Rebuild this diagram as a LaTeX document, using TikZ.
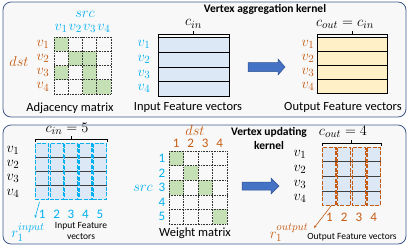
\documentclass[tikz,border=0pt]{standalone}
\usepackage{fontspec}
\setmainfont{Carlito}
\usetikzlibrary{arrows.meta}
\definecolor{panelborder}{RGB}{62,90,140}
\definecolor{panelfill}{RGB}{248,248,248}
\definecolor{cblue}{RGB}{0,176,240}
\definecolor{corange}{RGB}{197,90,17}
\definecolor{cgreen}{RGB}{197,224,180}
\definecolor{lblue}{RGB}{220,232,246}
\definecolor{lyellow}{RGB}{255,240,200}
\definecolor{arrblue}{RGB}{68,114,196}
\definecolor{arrborder}{RGB}{47,82,143}
\tikzset{
  panel/.style={draw=panelborder, fill=panelfill, line width=0.8pt, rounded corners=8pt},
  gridl/.style={draw=black!80, densely dotted, line width=0.6pt},
  lbl/.style={inner sep=0pt, font=\fontsize{15}{16}\selectfont},
  numlbl/.style={inner sep=0pt, font=\fontsize{13}{14}\selectfont},
  captxt/.style={inner sep=0pt, font=\fontsize{12.5}{14}\selectfont},
  smallcap/.style={inner sep=0pt, font=\fontsize{9.5}{11}\selectfont, align=center},
  ttl/.style={inner sep=0pt, font=\fontsize{11.5}{14}\selectfont\bfseries, align=center},
  bigarrow/.style={draw=arrborder, fill=arrblue, line width=0.5pt},
  bracket/.style={draw=black, line width=0.6pt},
  rowline/.style={draw=black, line width=0.6pt},
  bdash/.style={draw=cblue, dash pattern=on 4pt off 1.5pt, line width=1.2pt},
  odash/.style={draw=corange, dash pattern=on 4pt off 1.5pt, line width=1.2pt},
}
\begin{document}
\begin{tikzpicture}[x=1pt,y=-1pt]
\useasboundingbox (0,0) rectangle (409,247);
% panels
\draw[panel] (3,2) rectangle (406,117);
\draw[panel] (3,125) rectangle (406,244);

% ================= TOP PANEL =================
\node[ttl] (t1) at (265,9) {Vertex aggregation kernel};

% adjacency matrix
\def\cw{14.25}
\foreach \r/\c in {1/1,2/2,2/3,3/1,3/3,4/3,4/4}{
  \fill[cgreen] ({54+(\c-1)*\cw},{37+(\r-1)*\cw}) rectangle ++(\cw,\cw);
}
\foreach \i in {0,...,4}{
  \draw[gridl] ({54+\i*\cw},37) -- ({54+\i*\cw},94);
  \draw[gridl] (54,{37+\i*\cw}) -- (111,{37+\i*\cw});
}
\node[lbl, text=cblue] (src1) at (85,14) {$src$};
\foreach \i in {1,...,4}{
  \node[lbl, text=cblue] (ac\i) at ({54+(\i-0.5)*\cw},28) {$v_{\i}$};
  \node[lbl, text=corange] (ar\i) at (43,{37+(\i-0.5)*\cw}) {$v_{\i}$};
}
\node[lbl, text=corange] (dst1) at (19,61) {$dst$};
\node[captxt] (adjcap) at (70,108) {Adjacency matrix};

% input feature vectors
\fill[lblue] (158,37) rectangle (229,96);
\draw[rowline] (158,37) rectangle (229,96);
\foreach \y in {52,67,81}{ \draw[rowline] (158,\y) -- (229,\y); }
\draw[bracket] (158,37) -- (158,34) -- (229,34) -- (229,37) (193.5,34) -- (193.5,31);
\node[lbl] (cin1) at (193.5,24) {$c_{in}$};
\foreach \i/\y in {1/44.5,2/59.5,3/74,4/88.5}{
  \node[lbl, text=cblue] (iv\i) at (144,\y) {$v_{\i}$};
}
\node[captxt] (incap) at (188,107) {Input Feature vectors};

% arrow top
\draw[bigarrow] (248,62.5) -- (278,62.5) -- (278,59) -- (285,67) -- (278,75) -- (278,71.5) -- (248,71.5) -- cycle;

% output feature vectors
\fill[lyellow] (317,37) rectangle (387,93);
\draw[rowline] (317,37) rectangle (387,93);
\foreach \y in {51,65,79}{ \draw[rowline] (317,\y) -- (387,\y); }
\draw[bracket] (317,37) -- (317,34) -- (387,34) -- (387,37) (352,34) -- (352,31);
\node[lbl] (cout1) at (345,24.5) {$c_{out}=c_{in}$};
\foreach \i/\y in {1/44,2/58,3/72,4/86}{
  \node[lbl, text=corange] (ov\i) at (308,\y) {$v_{\i}$};
}
\node[captxt] (outcap) at (343,107) {Output Feature vectors};

% ================= BOTTOM PANEL =================
\node[ttl] (t2) at (269,138) {Vertex updating\\kernel};

% input matrix 4x5
\fill[lblue] (35,143) rectangle (107,200);
\foreach \y in {157.25,171.5,185.75}{ \draw[rowline, draw=black!75] (35,\y) -- (107,\y); }
\foreach \i in {0,...,4}{
  \draw[bdash] ({35+\i*14.4+0.7},143.7) rectangle ({35+(\i+1)*14.4-0.7},199.3);
  \node[numlbl, text=cblue] (ic\i) at ({35+(\i+0.5)*14.4},214) {\pgfmathparse{int(\i+1)}\pgfmathresult};
}
\draw[bracket] (35,142) -- (35,139) -- (107,139) -- (107,142) (71,139) -- (71,136);
\node[lbl] (cin2) at (67,129) {$c_{in}=5$};
\foreach \i/\y in {1/150,2/164,3/178,4/193}{
  \node[lbl] (bv\i) at (13,\y) {$v_{\i}$};
}
\coordinate (rinS) at (39.5,202);
\node[lbl, text=cblue] (rin) at (28,232) {$r_1^{input}$};
\coordinate (rinE) at (35,218);
\draw[cblue, line width=0.6pt, -{Stealth[length=3pt,width=2.5pt]}] (rinS) -- (rinE);
\node[smallcap] (incap2) at (81,231) {Input Feature\\vectors};

% weight matrix 5x4
\def\wx{14.5}
\foreach \r/\c in {1/1,2/2,3/1,3/3,5/4}{
  \fill[cgreen] ({169+(\c-1)*\wx},{151+(\r-1)*14.6}) rectangle ++(\wx,14.6);
}
\foreach \i in {0,...,4}{ \draw[gridl] ({169+\i*\wx},151) -- ({169+\i*\wx},224); }
\foreach \i in {0,...,5}{ \draw[gridl] (169,{151+\i*14.6}) -- (227,{151+\i*14.6}); }
\node[lbl, text=corange] (dst2) at (195,130) {$dst$};
\foreach \i in {1,...,4}{
  \node[numlbl, text=corange] (wc\i) at ({169+(\i-0.5)*\wx},143) {\i};
}
\foreach \i in {1,...,5}{
  \node[numlbl, text=cblue] (wr\i) at (162,{151+(\i-0.5)*14.6}) {\i};
}
\node[lbl, text=cblue] (src2) at (143,188) {$src$};
\node[captxt] (wcap) at (195,233) {Weight matrix};

% arrow bottom
\draw[bigarrow] (242,182) -- (271,182) -- (271,178) -- (279,186) -- (271,194) -- (271,190) -- (242,190) -- cycle;

% output matrix 4x4
\def\ox{14.75}
\fill[lblue] (322,147) rectangle (381,206);
\foreach \i in {1,...,3}{
  \draw[rowline, draw=black!75] (322,{147+\i*\ox}) -- (381,{147+\i*\ox});
}
\foreach \i in {0,...,3}{
  \draw[odash] ({322+\i*\ox+0.7},147.7) rectangle ({322+(\i+1)*\ox-0.7},205.3);
  \node[numlbl, text=corange] (oc\i) at ({322+(\i+0.5)*\ox},217) {\pgfmathparse{int(\i+1)}\pgfmathresult};
}
\draw[bracket] (322,146) -- (322,143) -- (381,143) -- (381,146) (351.5,143) -- (351.5,140);
\node[lbl] (cout2) at (343,132) {$c_{out}=4$};
\foreach \i/\y in {1/154,2/169,3/184,4/198}{
  \node[lbl] (obv\i) at (300,\y) {$v_{\i}$};
}
\coordinate (routS) at (331,206);
\coordinate (routE) at (314,228);
\node[lbl, text=corange] (rout) at (289,233) {$r_1^{output}$};
\draw[corange, line width=0.6pt, -{Stealth[length=3pt,width=2.5pt]}] (routS) -- (routE);
\node[smallcap] (outcap2) at (352,237) {Output Feature vectors};
\end{tikzpicture}
\end{document}
